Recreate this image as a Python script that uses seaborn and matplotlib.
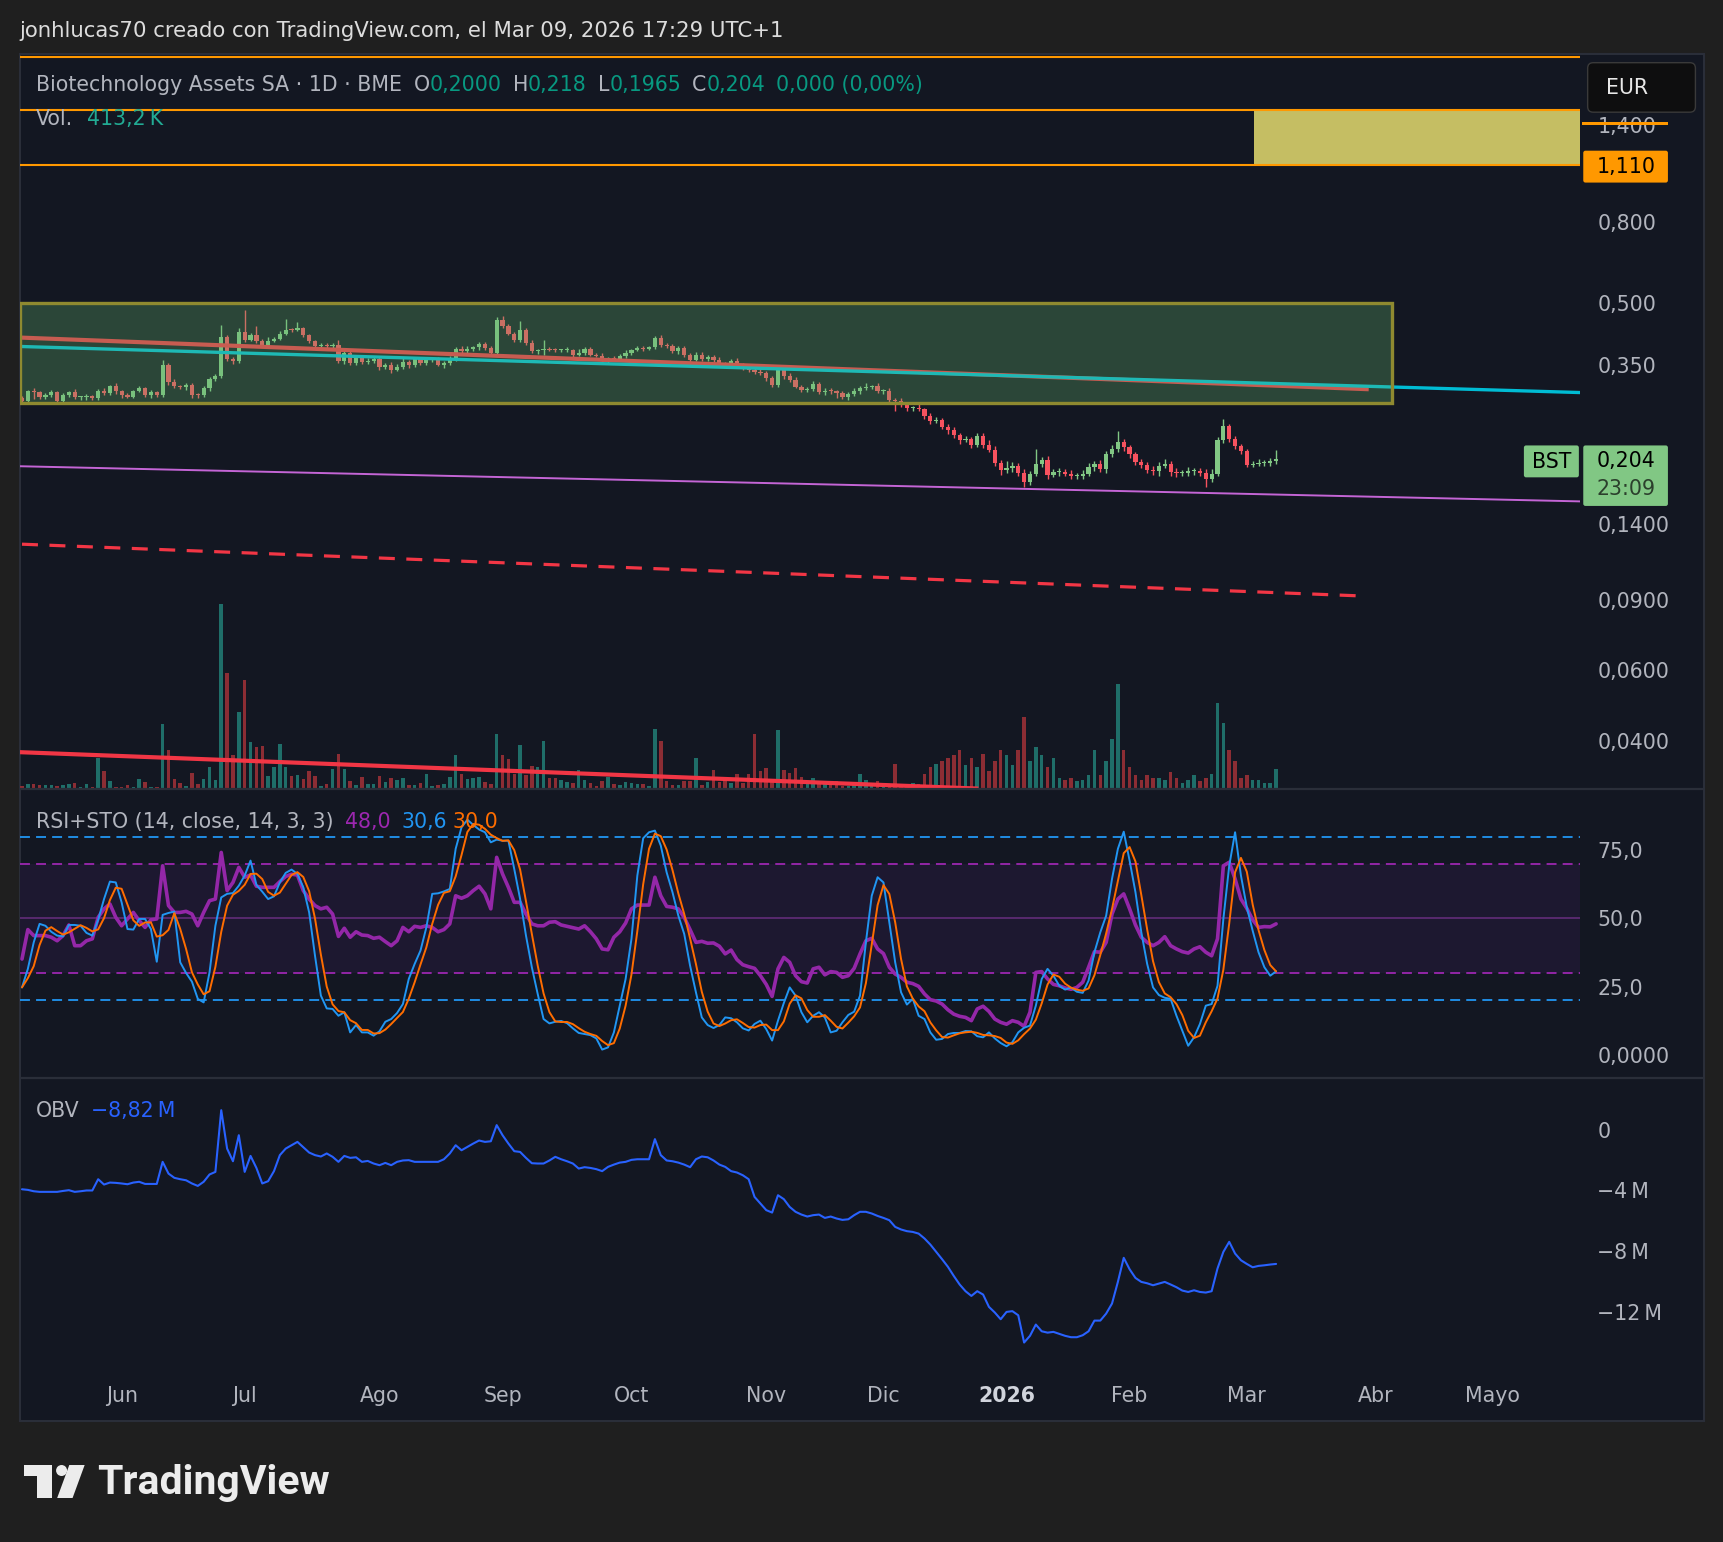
import matplotlib
matplotlib.use("Agg")
import numpy as np
import pandas as pd
import matplotlib.pyplot as plt
import seaborn as sns
from matplotlib.patches import Rectangle, FancyBboxPatch, Circle, Polygon
from matplotlib.ticker import NullLocator

# ---------------- data (x = daily bar index) ----------------
closes = [
    0.284, 0.301, 0.300, 0.291, 0.295, 0.300, 0.285, 0.295, 0.300, 0.291,
    0.291, 0.293, 0.290, 0.302, 0.298, 0.310, 0.301, 0.295, 0.292, 0.302,
    0.307, 0.294, 0.300, 0.294, 0.350, 0.318, 0.310, 0.308, 0.312, 0.295,
    0.294, 0.306, 0.323, 0.328, 0.413, 0.363, 0.358, 0.425, 0.405, 0.417,
    0.402, 0.394, 0.403, 0.408, 0.420, 0.430, 0.429, 0.433, 0.417, 0.402,
    0.392, 0.394, 0.390, 0.394, 0.358, 0.375, 0.354, 0.364, 0.356, 0.359,
    0.362, 0.346, 0.351, 0.341, 0.347, 0.356, 0.350, 0.362, 0.354, 0.361,
    0.361, 0.351, 0.354, 0.362, 0.384, 0.379, 0.384, 0.388, 0.395, 0.386,
    0.376, 0.454, 0.438, 0.419, 0.404, 0.429, 0.398, 0.379, 0.381, 0.384,
    0.382, 0.381, 0.381, 0.382, 0.372, 0.376, 0.384, 0.372, 0.370, 0.358,
    0.364, 0.362, 0.370, 0.375, 0.382, 0.386, 0.384, 0.388, 0.409, 0.394,
    0.390, 0.379, 0.386, 0.372, 0.361, 0.372, 0.362, 0.367, 0.361, 0.353,
    0.350, 0.358, 0.351, 0.345, 0.340, 0.336, 0.334, 0.325, 0.312, 0.341,
    0.328, 0.321, 0.309, 0.304, 0.305, 0.314, 0.299, 0.302, 0.301, 0.298,
    0.292, 0.296, 0.301, 0.307, 0.309, 0.310, 0.301, 0.302, 0.286, 0.284,
    0.278, 0.273, 0.274, 0.271, 0.261, 0.254, 0.255, 0.245, 0.240, 0.234,
    0.227, 0.228, 0.221, 0.232, 0.221, 0.215, 0.199, 0.191, 0.193, 0.196,
    0.188, 0.178, 0.187, 0.198, 0.202, 0.186, 0.189, 0.189, 0.187, 0.184,
    0.185, 0.187, 0.194, 0.198, 0.192, 0.209, 0.216, 0.224, 0.218, 0.209,
    0.200, 0.197, 0.191, 0.190, 0.196, 0.198, 0.189, 0.188, 0.188, 0.190,
    0.190, 0.188, 0.181, 0.187, 0.227, 0.246, 0.229, 0.219, 0.213, 0.197,
    0.198, 0.199, 0.199, 0.201, 0.204,
]
first_open = 0.290

# wick lengths in thousandths of EUR
wick_up = [
    3, 2, 6, 2, 3, 3, 2, 3, 2, 5,  2, 4, 2, 3, 5, 3, 6, 3, 3, 2,
    4, 2, 3, 2, 10, 4, 5, 3, 4, 3,  3, 4, 3, 4, 29, 4, 5, 8, 57, 4,
    21, 6, 10, 4, 6, 28, 5, 15, 4, 3,  4, 3, 5, 4, 12, 5, 4, 6, 4, 6,
    4, 8, 4, 6, 5, 8, 4, 6, 4, 5,  4, 6, 4, 8, 5, 6, 8, 4, 6, 5,
    4, 8, 12, 5, 4, 23, 5, 6, 4, 21,  4, 5, 4, 6, 3, 8, 4, 5, 4, 6,
    4, 5, 4, 6, 3, 6, 5, 4, 6, 8,  5, 6, 4, 5, 4, 6, 5, 4, 4, 6,
    4, 5, 6, 4, 5, 4, 6, 5, 3, 5,  4, 6, 5, 4, 3, 6, 4, 5, 4, 3,
    4, 3, 5, 4, 6, 3, 5, 3, 4, 3,  6, 4, 3, 6, 3, 5, 4, 3, 4, 5,
    3, 4, 3, 4, 5, 6, 4, 3, 8, 4,  3, 4, 3, 18, 4, 5, 3, 4, 3, 4,
    3, 4, 5, 3, 4, 4, 5, 15, 4, 3,  3, 4, 3, 5, 4, 6, 3, 4, 3, 4,
    3, 3, 4, 5, 4, 11, 3, 4, 3, 3,  3, 4, 3, 4, 10,
]
wick_dn = [
    4, 3, 12, 3, 3, 4, 3, 4, 3, 3,  4, 4, 3, 3, 4, 3, 4, 5, 3, 3,
    3, 3, 4, 3, 3, 5, 4, 3, 4, 5,  4, 3, 4, 3, 3, 4, 5, 4, 4, 3,
    5, 4, 4, 3, 4, 3, 4, 3, 4, 5,  4, 3, 4, 3, 4, 5, 4, 3, 4, 3,
    4, 5, 4, 6, 3, 4, 5, 3, 4, 3,  4, 3, 6, 4, 3, 4, 3, 4, 5, 3,
    4, 3, 4, 3, 4, 3, 5, 4, 5, 10,  3, 4, 3, 4, 5, 3, 4, 3, 4, 4,
    3, 4, 3, 5, 4, 3, 4, 3, 4, 5,  4, 3, 6, 4, 5, 3, 4, 3, 5, 4,
    3, 4, 3, 5, 4, 3, 4, 6, 3, 4,  5, 4, 3, 4, 5, 4, 3, 4, 5, 8,
    4, 5, 3, 4, 3, 4, 3, 4, 5, 15,  3, 4, 5, 3, 4, 5, 4, 3, 5, 4,
    5, 3, 4, 3, 4, 3, 4, 5, 3, 4,  4, 5, 3, 3, 4, 5, 3, 4, 3, 3,
    3, 4, 3, 4, 3, 4, 3, 4, 5, 4,  3, 4, 3, 4, 5, 3, 4, 5, 3, 4,
    4, 3, 8, 3, 3, 4, 5, 3, 4, 3,  3, 3, 4, 3, 3,
]

volume_k = [
    57, 100, 100, 70, 70, 70, 57, 86, 100, 128,
    36, 100, 36, 656, 370, 157, 29, 29, 86, 29,
    200, 135, 29, 29, 1355, 820, 200, 114, 57, 328,
    93, 200, 456, 178, 3900, 2440, 713, 1611, 2296, 991,
    870, 905, 264, 456, 948, 456, 264, 285, 200, 370,
    264, 50, 93, 413, 734, 413, 157, 71, 242, 93,
    93, 264, 135, 221, 178, 221, 71, 71, 114, 307,
    50, 71, 93, 242, 713, 307, 200, 221, 242, 135,
    93, 1162, 713, 627, 307, 927, 285, 478, 456, 1012,
    221, 221, 178, 135, 114, 392, 178, 114, 50, 157,
    242, 93, 71, 135, 114, 93, 93, 50, 1248, 1012,
    157, 71, 71, 157, 157, 650, 71, 135, 392, 135,
    221, 114, 307, 114, 307, 1162, 370, 435, 200, 1226,
    392, 328, 435, 242, 93, 221, 135, 93, 93, 157,
    50, 50, 93, 307, 178, 93, 157, 71, 50, 520,
    60, 100, 120, 90, 300, 460, 510, 580, 640, 700,
    810, 500, 650, 460, 740, 380, 580, 810, 700, 500,
    810, 1500, 580, 880, 700, 460, 650, 230, 190, 230,
    150, 190, 280, 810, 280, 580, 1040, 2200, 810, 460,
    280, 190, 280, 230, 230, 190, 350, 230, 120, 190,
    280, 150, 230, 300, 1810, 1390, 810, 580, 230, 280,
    190, 190, 120, 120, 413,
]

rsi = [
    35.1, 45.9, 43.7, 43.7, 43.7, 43.1, 41.8, 43.7, 47.6, 40.0,
    40.0, 41.8, 42.5, 50.4, 53.5, 55.3, 50.4, 47.3, 49.8, 52.2,
    49.2, 46.7, 49.5, 49.8, 69.3, 54.7, 52.2, 52.2, 52.6, 51.6,
    47.3, 52.2, 56.5, 57.1, 74.2, 60.2, 63.2, 68.7, 65.1, 65.9,
    61.8, 61.4, 61.4, 61.4, 63.5, 65.4, 66.2, 65.9, 60.2, 57.1,
    54.7, 53.5, 54.1, 51.6, 43.4, 46.4, 43.1, 45.1, 43.9, 43.7,
    42.7, 43.1, 41.5, 40.0, 41.8, 46.7, 45.1, 47.1, 46.7, 47.3,
    46.7, 45.1, 45.9, 48.0, 58.3, 57.4, 58.3, 60.2, 61.8, 59.0,
    53.5, 72.4, 66.3, 61.4, 55.9, 55.9, 51.6, 48.0, 47.3, 47.3,
    48.6, 48.8, 47.6, 47.1, 46.6, 46.1, 47.3, 45.1, 42.5, 38.8,
    38.5, 43.1, 45.1, 48.3, 53.5, 54.9, 54.9, 54.9, 65.1, 58.3,
    54.4, 54.1, 53.5, 50.4, 45.9, 41.2, 41.6, 40.9, 41.0, 39.8,
    37.0, 38.4, 34.9, 33.0, 32.3, 31.7, 29.0, 25.8, 21.4, 31.5,
    35.7, 33.9, 29.0, 26.8, 26.3, 31.5, 32.1, 29.3, 30.5, 30.2,
    28.4, 29.0, 31.7, 37.0, 41.8, 42.7, 38.8, 37.1, 32.1, 29.6,
    28.4, 26.6, 26.1, 25.1, 22.3, 20.2, 19.7, 18.6, 16.5, 14.9,
    14.1, 13.7, 12.5, 16.8, 17.8, 15.9, 13.1, 11.9, 11.2, 12.5,
    11.9, 10.4, 15.6, 30.2, 30.5, 27.8, 25.8, 25.3, 24.5, 24.0,
    24.7, 26.6, 32.1, 37.8, 37.6, 41.2, 51.6, 57.1, 59.0, 53.5,
    47.6, 43.1, 41.2, 40.0, 41.2, 43.3, 40.0, 38.8, 37.8, 37.3,
    38.8, 39.6, 37.6, 36.3, 42.5, 69.3, 70.6, 64.5, 57.1, 53.7,
    49.5, 46.7, 47.0, 46.9, 48.0,
]

stoch_k = [
    24.7, 31.5, 41.2, 48.0, 47.3, 45.1, 43.7, 43.4, 47.6, 47.6,
    47.3, 44.7, 43.7, 49.5, 57.1, 63.5, 63.2, 55.9, 46.1, 45.9,
    49.8, 49.8, 46.1, 34.1, 51.3, 52.0, 52.5, 33.9, 30.0, 26.8,
    20.5, 19.2, 30.2, 47.3, 57.7, 59.0, 59.3, 62.0, 65.7, 71.2,
    62.3, 59.8, 57.1, 58.1, 63.2, 66.7, 67.9, 66.3, 61.4, 52.2,
    36.3, 21.7, 17.0, 16.8, 14.3, 15.6, 8.2, 10.9, 8.2, 8.2,
    7.0, 8.6, 12.1, 13.1, 15.3, 18.6, 27.8, 33.3, 38.2, 46.7,
    59.0, 59.2, 59.9, 60.8, 75.5, 83.4, 86.2, 84.3, 82.6, 81.6,
    77.9, 78.9, 78.5, 78.5, 68.1, 57.1, 43.7, 32.1, 22.3, 13.1,
    11.5, 12.1, 12.4, 11.6, 9.7, 8.0, 7.6, 7.2, 6.0, 1.9,
    2.7, 8.2, 18.0, 27.8, 42.5, 65.7, 79.4, 81.6, 82.2, 76.7,
    66.9, 59.6, 51.0, 44.3, 32.7, 22.9, 13.7, 10.9, 9.8, 10.9,
    13.7, 13.4, 11.9, 9.7, 8.9, 11.3, 12.5, 9.4, 5.2, 12.5,
    19.0, 24.7, 21.7, 15.6, 11.9, 14.3, 15.6, 13.7, 8.2, 8.8,
    11.9, 14.6, 15.8, 21.7, 41.2, 58.3, 65.1, 63.2, 48.6, 33.9,
    22.9, 18.4, 20.5, 14.3, 13.1, 8.2, 5.5, 5.8, 7.6, 8.0,
    8.0, 8.7, 8.6, 6.8, 6.4, 8.2, 6.0, 4.3, 3.1, 4.6,
    8.2, 9.9, 10.7, 18.0, 27.8, 31.5, 29.0, 25.3, 23.9, 24.6,
    23.1, 22.7, 27.2, 37.6, 44.9, 51.0, 64.5, 75.5, 81.8, 71.2,
    59.6, 44.9, 33.3, 24.7, 21.9, 20.9, 20.5, 14.3, 8.8, 3.3,
    6.4, 11.3, 18.0, 18.6, 25.3, 49.8, 69.3, 81.6, 65.7, 54.1,
    45.5, 37.6, 32.1, 29.0, 30.6,
]

obv_m = [
    -3.92, -3.96, -4.05, -4.09, -4.09, -4.09, -4.09, -4.03, -3.98, -4.09,
    -4.05, -4.00, -4.00, -3.26, -3.61, -3.48, -3.50, -3.54, -3.59, -3.48,
    -3.43, -3.57, -3.57, -3.57, -2.12, -2.89, -3.17, -3.26, -3.33, -3.54,
    -3.70, -3.43, -2.95, -2.78, 1.27, -1.25, -2.08, -0.37, -2.78, -1.73,
    -2.52, -3.54, -3.39, -2.73, -1.68, -1.25, -1.03, -0.81, -1.16, -1.51,
    -1.68, -1.77, -1.57, -1.79, -2.12, -1.73, -1.86, -1.82, -2.12, -2.06,
    -2.23, -2.34, -2.19, -2.34, -2.12, -2.03, -2.01, -2.12, -2.12, -2.12,
    -2.12, -2.12, -1.95, -1.57, -1.03, -1.36, -1.14, -0.92, -0.72, -0.81,
    -0.77, 0.29, -0.37, -0.92, -1.42, -1.47, -1.86, -2.21, -2.23, -2.23,
    -2.03, -1.79, -1.95, -2.08, -2.23, -2.56, -2.47, -2.52, -2.60, -2.73,
    -2.45, -2.30, -2.17, -2.12, -1.99, -1.95, -1.95, -1.95, -0.63, -1.68,
    -2.03, -2.08, -2.17, -2.30, -2.47, -1.95, -1.77, -1.82, -2.03, -2.30,
    -2.45, -2.73, -2.82, -3.00, -3.26, -4.42, -4.86, -5.29, -5.45, -4.31,
    -4.57, -5.08, -5.40, -5.58, -5.71, -5.62, -5.58, -5.80, -5.71, -5.84,
    -5.93, -5.89, -5.62, -5.40, -5.40, -5.51, -5.67, -5.80, -5.95, -6.39,
    -6.56, -6.67, -6.72, -6.83, -7.15, -7.55, -8.03, -8.51, -9.01, -9.61,
    -10.17, -10.61, -10.92, -10.61, -10.83, -11.64, -12.01, -12.45, -11.97, -11.92,
    -12.19, -13.98, -13.54, -12.80, -13.24, -13.33, -13.28, -13.41, -13.54, -13.63,
    -13.63, -13.50, -13.24, -12.54, -12.54, -12.08, -11.42, -10.00, -8.42, -9.17,
    -9.74, -10.00, -10.09, -10.22, -10.11, -10.00, -10.17, -10.35, -10.57, -10.66,
    -10.55, -10.66, -10.70, -10.61, -9.12, -8.03, -7.37, -8.14, -8.58, -8.82,
    -9.04, -8.95, -8.91, -8.86, -8.82,
]

month_pos = [17, 38, 61, 82, 104, 127, 147, 168, 189, 209, 231, 251]
month_lbl = ["Jun", "Jul", "Ago", "Sep", "Oct", "Nov", "Dic", "2026", "Feb", "Mar", "Abr", "Mayo"]
price_ticks = [1.4, 0.8, 0.5, 0.35, 0.14, 0.09, 0.06, 0.04]
price_lbl = ["1,400", "0,800", "0,500", "0,350", "0,1400", "0,0900", "0,0600", "0,0400"]
rsi_ticks = [75, 50, 25, 0]
rsi_lbl = ["75,0", "50,0", "25,0", "0,0000"]
obv_ticks = [0, -4, -8, -12]
obv_lbl = ["0", "\u22124\u2009M", "\u22128\u2009M", "\u221212\u2009M"]

# user drawings: (bar index, price)
zone_x, zone_p = (-0.4, 233.8), (0.2805, 0.50)
red_tl_x, red_tl_p = [-0.4, 229.8], [0.4106, 0.3046]
cyan_tl_x, cyan_tl_p = [-0.4, 265.9], [0.390, 0.2988]
violet_tl_x, violet_tl_p = [-0.4, 265.9], [0.1952, 0.1593]
dash_tl_x, dash_tl_p = [0, 228.9], [0.1244, 0.0922]
vol_tl_x, vol_tl_p = [-0.4, 163.2], [0.0374, 0.0303]
orange_levels = [2.081, 1.529, 1.110]
target_x, target_p = (210.2, 265.9), (1.110, 1.529)

# ---------------- styling ----------------
BG = "#131722"
OUTER = "#1f1f1f"
GREY = "#b2b5be"
GREEN = "#81c784"
RED = "#f7525f"
TEAL = "#089981"

sns.set_theme(style="dark", rc={"axes.facecolor": BG, "figure.facecolor": OUTER,
                                "axes.edgecolor": BG, "grid.color": BG})
plt.rcParams["font.family"] = ["DejaVu Sans"]
FS = 14.8

W, H = 1568, 1402


def rect(x0, y0, x1, y1):
    return [x0 / W, 1 - y1 / H, (x1 - x0) / W, (y1 - y0) / H]


fig = plt.figure(figsize=(17.24, 15.42), dpi=100)

bg = fig.add_axes([0, 0, 1, 1], zorder=-10)
bg.set_xlim(0, W)
bg.set_ylim(H, 0)
bg.axis("off")
bg.add_patch(Rectangle((18, 49), 1532, 1243, fc=BG, ec="#2a2e39", lw=1.5))

ax = fig.add_axes(rect(18, 49, 1437, 717))
ax_rsi = fig.add_axes(rect(18, 718, 1437, 980), sharex=ax)
ax_obv = fig.add_axes(rect(18, 981, 1437, 1246), sharex=ax)
for a in (ax, ax_rsi, ax_obv):
    a.patch.set_visible(False)
    for s in a.spines.values():
        s.set_visible(False)
    a.grid(False)

df = pd.DataFrame({"close": closes, "up_w": wick_up, "dn_w": wick_dn,
                   "vol": volume_k, "rsi": rsi, "k": stoch_k, "obv": obv_m})
df["open"] = df["close"].shift(1).fillna(first_open)
df["d"] = df["k"].rolling(3, min_periods=1).mean()
df["top"] = df[["open", "close"]].max(axis=1)
df["bot"] = df[["open", "close"]].min(axis=1)
df["high"] = df["top"] + df["up_w"] / 1000
df["low"] = df["bot"] - df["dn_w"] / 1000
df["body"] = (df["top"] - df["bot"]).clip(lower=df["bot"] * 0.006)
is_up = df["close"] >= df["open"]
idx = df.index.values

# ---------------- main pane ----------------
ax.set_yscale("log")
ax.set_xlim(-0.375, 265.85)
ax.set_ylim(0.0303, 2.115)

ax_vol = ax.twinx()
ax_vol.set_zorder(ax.get_zorder() - 1)
ax_vol.patch.set_visible(False)
ax_vol.bar(idx, df["vol"], width=0.6, color=np.where(is_up, "#1f6e69", "#8c2d34"), linewidth=0)
ax_vol.set_ylim(0, 15500)
ax_vol.set_yticks([])
for s in ax_vol.spines.values():
    s.set_visible(False)
ax_vol.grid(False)

candle_col = np.where(is_up, GREEN, RED)
ax.vlines(idx, df["low"], df["high"], colors=candle_col, lw=1.0, zorder=2)
ax.bar(idx, df["body"], bottom=df["bot"], width=0.72, color=candle_col, linewidth=0, zorder=3)

ax.plot(red_tl_x, red_tl_p, color="#f23645", lw=3.0, zorder=4, solid_capstyle="butt")
ax.plot(cyan_tl_x, cyan_tl_p, color="#00bcd4", lw=2.4, zorder=4, solid_capstyle="butt")
ax.plot(violet_tl_x, violet_tl_p, color="#c465d6", lw=1.4, zorder=4)
ax.plot(dash_tl_x, dash_tl_p, color="#f23645", lw=2.3, ls=(0, (5, 3.6)), zorder=4)
ax.plot(vol_tl_x, vol_tl_p, color="#f23645", lw=3.0, zorder=4, solid_capstyle="butt")

ax.add_patch(Rectangle((zone_x[0], zone_p[0]), zone_x[1] - zone_x[0], zone_p[1] - zone_p[0],
                       fc="#64b46e", alpha=0.3, ec="none", zorder=6))
ax.add_patch(Rectangle((zone_x[0], zone_p[0]), zone_x[1] - zone_x[0], zone_p[1] - zone_p[0],
                       fill=False, ec="#8f8a30", lw=2.4, zorder=7))
ax.add_patch(Rectangle((target_x[0], target_p[0]), target_x[1] - target_x[0],
                       target_p[1] - target_p[0], fc="#c5be63", ec="none", zorder=5))
for lvl in orange_levels:
    ax.axhline(lvl, color="#ff9800", lw=1.5, zorder=6)

ax.yaxis.tick_right()
ax.set_yticks(price_ticks, labels=price_lbl)
ax.yaxis.set_minor_locator(NullLocator())
ax.tick_params(axis="y", length=0, pad=12.5, labelsize=FS, labelcolor=GREY)
ax.tick_params(axis="x", bottom=False, labelbottom=False)

# ---------------- RSI + stochastic pane ----------------
ax_rsi.set_ylim(-8.47, 97.2)
ax_rsi.axhspan(30, 70, color="#1d1830", zorder=0, lw=0)
for lvl in (80, 20):
    ax_rsi.axhline(lvl, color="#2196f3", lw=1.3, ls=(0, (5.5, 3.4)), zorder=1)
for lvl in (70, 30):
    ax_rsi.axhline(lvl, color="#9c27b0", lw=1.3, ls=(0, (5.5, 3.4)), zorder=1)
ax_rsi.axhline(50, color="#5d2a73", lw=1.3, zorder=1)
sns.lineplot(x=idx, y=df["rsi"], ax=ax_rsi, color="#9427a8", linewidth=2.6, zorder=3)
sns.lineplot(x=idx, y=df["k"], ax=ax_rsi, color="#2196f3", linewidth=1.4, zorder=4)
sns.lineplot(x=idx, y=df["d"], ax=ax_rsi, color="#ff6d00", linewidth=1.4, zorder=5)
ax_rsi.yaxis.tick_right()
ax_rsi.set_yticks(rsi_ticks, labels=rsi_lbl)
ax_rsi.tick_params(axis="y", length=0, pad=12.5, labelsize=FS, labelcolor=GREY)
ax_rsi.tick_params(axis="x", bottom=False, labelbottom=False)
ax_rsi.set_xlabel("")
ax_rsi.set_ylabel("")

# ---------------- OBV pane ----------------
ax_obv.set_ylim(-15.81, 3.32)
sns.lineplot(x=idx, y=df["obv"], ax=ax_obv, color="#2962ff", linewidth=1.5)
ax_obv.yaxis.tick_right()
ax_obv.set_yticks(obv_ticks, labels=obv_lbl)
ax_obv.tick_params(axis="y", length=0, pad=12.5, labelsize=FS, labelcolor=GREY)
ax_obv.set_xticks(month_pos, labels=month_lbl)
ax_obv.tick_params(axis="x", length=0, pad=11, labelsize=FS, labelcolor=GREY)
ax_obv.get_xticklabels()[7].set_fontweight("bold")
ax_obv.get_xticklabels()[7].set_color("#d1d4dc")
ax_obv.set_xlabel("")
ax_obv.set_ylabel("")
ax_obv.set_xlim(-0.375, 265.85)

# ---------------- overlay: separators, tags, legends, logo ----------------
ov = fig.add_axes([0, 0, 1, 1], zorder=30)
ov.set_xlim(0, W)
ov.set_ylim(H, 0)
ov.axis("off")

for y in (717.5, 980.5):
    ov.plot([18, 1550], [y, y], color="#2a2e39", lw=1.6)

ov.add_patch(Rectangle((1439, 110.5), 78, 3.5, fc="#ff9800", ec="none"))
ov.add_patch(FancyBboxPatch((1444, 57), 98, 45, boxstyle="round,pad=0,rounding_size=5",
                            fc="#0e0e0f", ec="#3a3a3a", lw=1))
ov.text(1480, 80, "EUR", color="#e8e8e8", fontsize=FS, ha="center", va="center")

ov.add_patch(FancyBboxPatch((1440, 137), 77, 29, boxstyle="round,pad=0,rounding_size=2",
                            fc="#ff9800", ec="none"))
ov.text(1452, 152, "1,110", color="black", fontsize=FS, ha="left", va="center")

ov.add_patch(FancyBboxPatch((1440, 405), 77, 55, boxstyle="round,pad=0,rounding_size=2",
                            fc=GREEN, ec="none"))
ov.text(1452, 419, "0,204", color="black", fontsize=FS, ha="left", va="center")
ov.text(1452, 445, "23:09", color="#2b3f2c", fontsize=FS, ha="left", va="center")
ov.add_patch(FancyBboxPatch((1386, 405), 50, 29, boxstyle="round,pad=0,rounding_size=2",
                            fc=GREEN, ec="none"))
ov.text(1411, 420, "BST", color="black", fontsize=FS, ha="center", va="center")


def chain(x, y, parts, size=FS):
    t = ov.text(x, y, parts[0][0], color=parts[0][1], fontsize=size, ha="left", va="center")
    for s, c, gap in parts[1:]:
        t = ov.annotate(s, xy=(1, 0), xycoords=t, xytext=(gap, 0), textcoords="offset points",
                        color=c, fontsize=size, ha="left", va="bottom")
    return t


ov.text(18, 28, "jonhlucas70 creado con TradingView.com, el Mar 09, 2026 17:29 UTC+1",
        color="#dcdcdc", fontsize=15.3, ha="left", va="center")
chain(33, 77, [("Biotechnology Assets SA \u00b7 1D \u00b7 BME", GREY),
               ("O", GREY, 8), ("0,2000", TEAL, 0), ("H", GREY, 8), ("0,218", TEAL, 0),
               ("L", GREY, 8), ("0,1965", TEAL, 0), ("C", GREY, 8), ("0,204", TEAL, 0),
               ("0,000 (0,00%)", TEAL, 8)])
chain(33, 108, [("Vol.", GREY), ("413,2\u2009K", "#22ab94", 10)])
chain(33, 747, [("RSI+STO (14, close, 14, 3, 3)", GREY), ("48,0", "#9c27b0", 8),
                ("30,6", "#2196f3", 8), ("30,0", "#ff6d00", 4)])
chain(33, 1010, [("OBV", GREY), ("\u22128,82\u2009M", "#2962ff", 8)])

# TradingView logo
logo = "#ececec"
ov.add_patch(Rectangle((22, 1332), 25, 10, fc=logo, ec="none"))
ov.add_patch(Rectangle((34, 1332), 13, 30, fc=logo, ec="none"))
ov.add_patch(Circle((56, 1337), 5, fc=logo, ec="none"))
ov.add_patch(Polygon([(63, 1332), (77, 1332), (66, 1362), (52, 1362)], closed=True, fc=logo, ec="none"))
ov.text(88, 1348, "TradingView", color=logo, fontsize=29.5, fontweight="bold",
        ha="left", va="center", family=["Roboto", "DejaVu Sans"])

fig.savefig("out.png", dpi=100, facecolor=OUTER)
